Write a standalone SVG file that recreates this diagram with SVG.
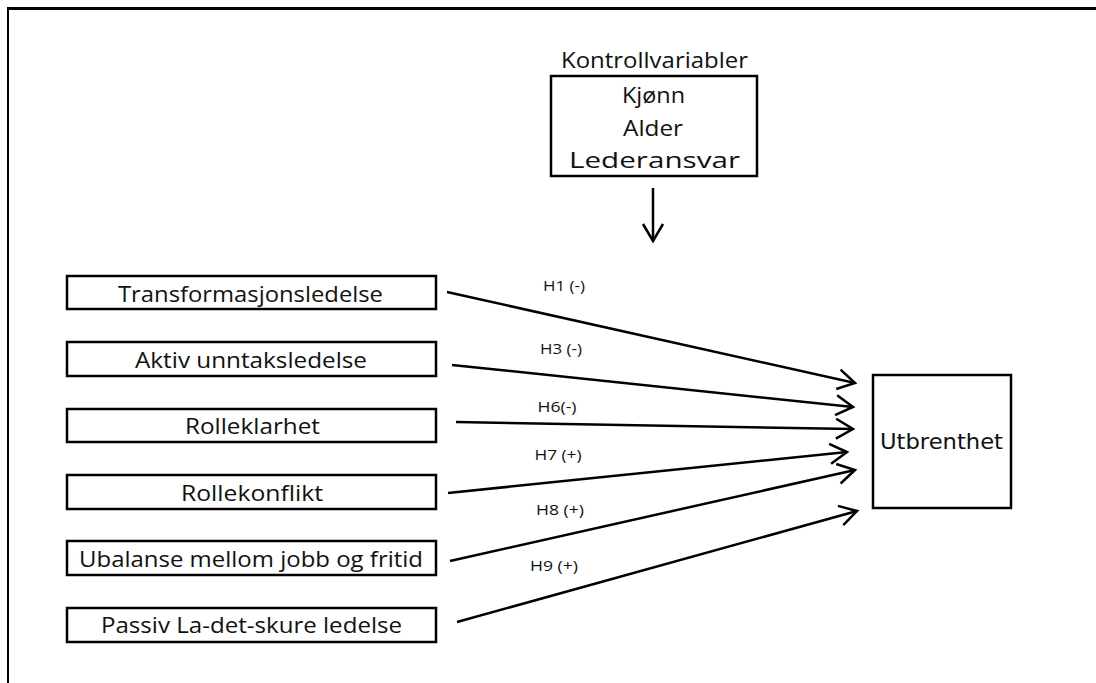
<svg xmlns="http://www.w3.org/2000/svg" width="1096" height="683" viewBox="0 0 1096 683">
<style>
.box{fill:#fff;stroke:#000;stroke-width:2.5}
.t{font-family:"Open Sans","Noto Sans","Liberation Sans",sans-serif;font-size:21px;fill:#111;text-anchor:middle}
.lbl{font-family:"Open Sans","Noto Sans","Liberation Sans",sans-serif;font-size:14px;fill:#111;text-anchor:middle}
.u{font-family:"DejaVu Sans","Liberation Sans",sans-serif;font-size:21px;fill:#111;text-anchor:middle}
.c{stroke:#000;stroke-width:2.5;fill:none}
</style>
<defs>
<marker id="ah" markerUnits="userSpaceOnUse" markerWidth="24" markerHeight="24" viewBox="-20 -12 24 24" refX="0" refY="0" orient="auto">
<path d="M-17,-10 L0,0 L-17,10" fill="none" stroke="#000" stroke-width="2.5"/>
</marker>
</defs>
<rect width="1096" height="683" fill="#fff"/>
<g id="frame">
<line x1="7" y1="8.5" x2="1096" y2="8.5" stroke="#000" stroke-width="3"/>
<line x1="8" y1="7" x2="8" y2="683" stroke="#000" stroke-width="2"/>
</g>
<g id="controls">
<text class="t" x="654.5" y="68" textLength="187" lengthAdjust="spacingAndGlyphs">Kontrollvariabler</text>
<rect class="box" x="551" y="76" width="206" height="100"/>
<text class="t" x="653.5" y="103" textLength="63" lengthAdjust="spacingAndGlyphs">Kjønn</text>
<text class="t" x="653" y="136" textLength="60" lengthAdjust="spacingAndGlyphs">Alder</text>
<text class="t" x="654.5" y="168" textLength="171" lengthAdjust="spacingAndGlyphs">Lederansvar</text>
</g>
<g id="n1"><rect class="box" x="67" y="276" width="369" height="33"/><text class="t" x="250.5" y="302" textLength="265" lengthAdjust="spacingAndGlyphs">Transformasjonsledelse</text></g>
<g id="n2"><rect class="box" x="67" y="342" width="369" height="34"/><text class="t" x="251" y="368" textLength="232" lengthAdjust="spacingAndGlyphs">Aktiv unntaksledelse</text></g>
<g id="n3"><rect class="box" x="67" y="409" width="369" height="33"/><text class="t" x="252.5" y="434" textLength="135" lengthAdjust="spacingAndGlyphs">Rolleklarhet</text></g>
<g id="n4"><rect class="box" x="67" y="475" width="369" height="34"/><text class="t" x="252" y="501" textLength="142" lengthAdjust="spacingAndGlyphs">Rollekonflikt</text></g>
<g id="n5"><rect class="box" x="67" y="541" width="369" height="34"/><text class="t" x="251" y="567" textLength="344" lengthAdjust="spacingAndGlyphs">Ubalanse mellom jobb og fritid</text></g>
<g id="n6"><rect class="box" x="67" y="608" width="369" height="34"/><text class="t" x="251.5" y="633" textLength="301" lengthAdjust="spacingAndGlyphs">Passiv La-det-skure ledelse</text></g>
<g id="utbrenthet"><rect class="box" x="873" y="375" width="138" height="133"/><text class="u" x="941.5" y="449" textLength="123" lengthAdjust="spacingAndGlyphs">Utbrenthet</text></g>
<g id="connectors">
<line class="c" x1="653" y1="188" x2="653" y2="241" marker-end="url(#ah)"/>
<line class="c" x1="447" y1="292" x2="855" y2="383" marker-end="url(#ah)"/>
<line class="c" x1="452" y1="365" x2="853" y2="407" marker-end="url(#ah)"/>
<line class="c" x1="456" y1="422" x2="853" y2="429" marker-end="url(#ah)"/>
<line class="c" x1="448" y1="493" x2="847" y2="452" marker-end="url(#ah)"/>
<line class="c" x1="450" y1="561" x2="855" y2="470" marker-end="url(#ah)"/>
<line class="c" x1="457" y1="622" x2="857" y2="511" marker-end="url(#ah)"/>
</g>
<g id="labels">
<text class="lbl" x="564" y="291" textLength="42" lengthAdjust="spacingAndGlyphs">H1 (-)</text>
<text class="lbl" x="561" y="354" textLength="42" lengthAdjust="spacingAndGlyphs">H3 (-)</text>
<text class="lbl" x="557" y="412" textLength="39" lengthAdjust="spacingAndGlyphs">H6(-)</text>
<text class="lbl" x="558" y="460" textLength="47" lengthAdjust="spacingAndGlyphs">H7 (+)</text>
<text class="lbl" x="560" y="515" textLength="48" lengthAdjust="spacingAndGlyphs">H8 (+)</text>
<text class="lbl" x="554" y="571" textLength="48" lengthAdjust="spacingAndGlyphs">H9 (+)</text>
</g>
</svg>
